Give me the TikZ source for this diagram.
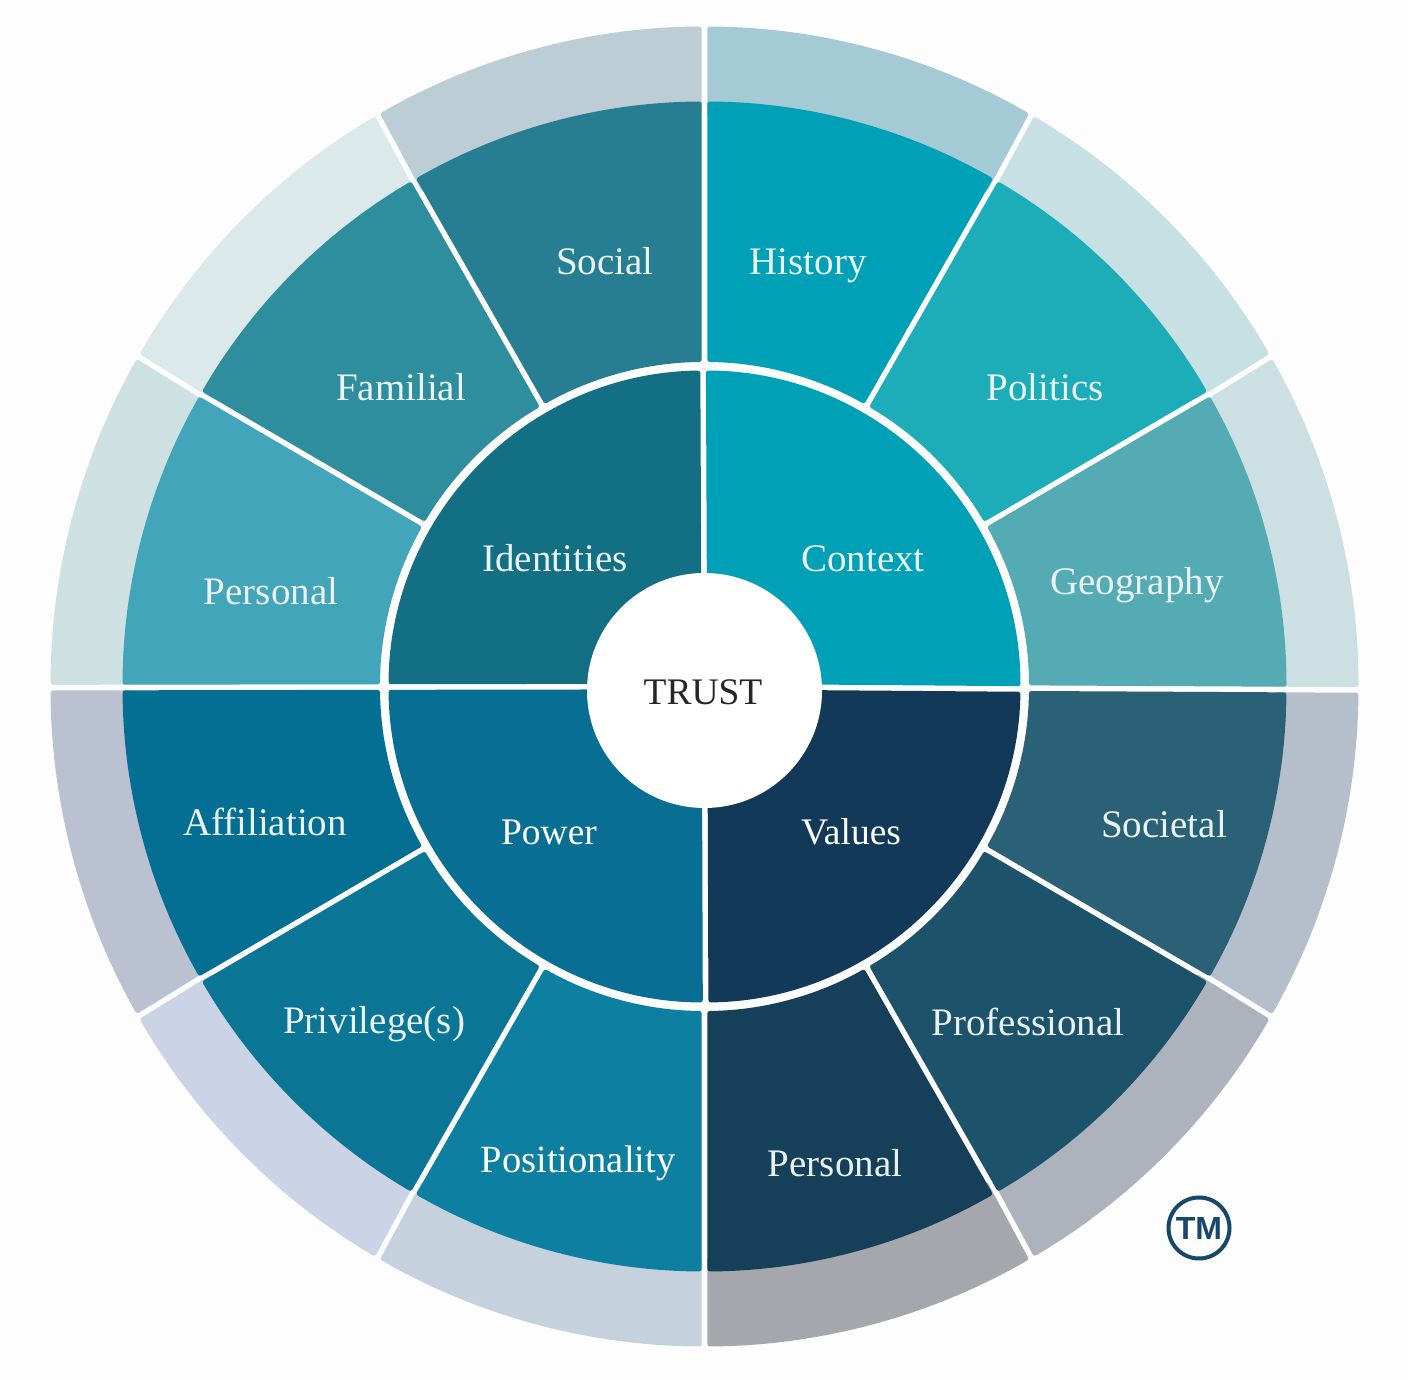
\documentclass[tikz,border=0pt]{standalone}
\usepackage{fontspec}
\setmainfont{Liberation Serif}
\newfontfamily\tmfont{Liberation Sans}
\newcommand{\sectgap}{2.8}
% colour, start angle, end angle, inner radius, outer x radius, outer y radius
\newcommand{\sect}[6]{%
  \pgfmathsetmacro{\dA}{asin(\sectgap/#4)}%
  \pgfmathsetmacro{\dB}{asin(\sectgap/#5)}%
  \pgfmathsetmacro{\aOs}{#2+\dB}%
  \pgfmathsetmacro{\aOe}{#3-\dB}%
  \pgfmathsetmacro{\aIs}{#2+\dA}%
  \pgfmathsetmacro{\aIe}{#3-\dA}%
  \fill[fill=#1,rounded corners=2.5pt]
    (\aOs:#5pt and #6pt)
    arc[start angle=\aOs,end angle=\aOe,x radius=#5pt,y radius=#6pt]
    -- (\aIe:#4pt)
    arc[start angle=\aIe,end angle=\aIs,radius=#4pt]
    -- cycle;}
\newcommand{\oring}[3]{\sect{#1}{#2}{#3}{570}{654}{660}}
\newcommand{\mring}[3]{\sect{#1}{#2}{#3}{324.5}{582}{585}}
\newcommand{\iring}[3]{\sect{#1}{#2}{#3}{90}{316}{316}}
\definecolor{labsoft}{HTML}{E9F3F5}
\definecolor{tmblue}{HTML}{17486A}
\definecolor{pagebg}{HTML}{FDFDFE}
\tikzset{
  lab/.style={font=\fontsize{39}{42}\selectfont,text=labsoft,inner sep=0pt,anchor=center,
    text height=25pt,text depth=0pt},
  labw/.style={lab,font=\fontsize{37.5}{40}\selectfont,text=#1},
  labw/.default={white},
  tmring/.style={circle,draw=tmblue,line width=4pt,minimum size=61pt,inner sep=0pt,
    font=\tmfont\bfseries\fontsize{32}{34}\selectfont,text=tmblue}
}
\begin{document}
\begin{tikzpicture}[x=1pt,y=1pt]
\useasboundingbox (0,0) rectangle (1408,1380);
\fill[fill=pagebg] (0,0) rectangle (1408,1380);
\begin{scope}[shift={(704.5pt,693.5pt)}]
  % outer ring
  \definecolor{o1}{HTML}{CCE0E3}\oring{o1}{-0.3}{30}
  \definecolor{o2}{HTML}{C7E0E4}\oring{o2}{30}{60}
  \definecolor{o3}{HTML}{A4CAD5}\oring{o3}{60}{90}
  \definecolor{o4}{HTML}{BCCDD5}\oring{o4}{90}{120}
  \definecolor{o5}{HTML}{DCE9EA}\oring{o5}{120}{150}
  \definecolor{o6}{HTML}{CDE1E3}\oring{o6}{150}{180.1}
  \definecolor{o7}{HTML}{BAC1D0}\oring{o7}{180.1}{210}
  \definecolor{o8}{HTML}{CBD3E7}\oring{o8}{210}{240}
  \definecolor{o9}{HTML}{C6D1DE}\oring{o9}{240}{270}
  \definecolor{o10}{HTML}{A5A7AC}\oring{o10}{270}{300}
  \definecolor{o11}{HTML}{ADB3BC}\oring{o11}{300}{330}
  \definecolor{o12}{HTML}{B5BFCC}\oring{o12}{330}{359.7}
  % middle ring
  \definecolor{m1}{HTML}{54ABB4}\mring{m1}{-0.3}{30}
  \definecolor{m2}{HTML}{1DADB9}\mring{m2}{30}{60}
  \definecolor{m3}{HTML}{00A0B7}\mring{m3}{60}{90}
  \definecolor{m4}{HTML}{277D91}\mring{m4}{90}{120}
  \definecolor{m5}{HTML}{2F8E9E}\mring{m5}{120}{150}
  \definecolor{m6}{HTML}{43A5B9}\mring{m6}{150}{180.1}
  \definecolor{m7}{HTML}{056E93}\mring{m7}{180.1}{210}
  \definecolor{m8}{HTML}{0B7595}\mring{m8}{210}{240}
  \definecolor{m9}{HTML}{0D80A1}\mring{m9}{240}{270}
  \definecolor{m10}{HTML}{164059}\mring{m10}{270}{300}
  \definecolor{m11}{HTML}{1C536B}\mring{m11}{300}{330}
  \definecolor{m12}{HTML}{2A6176}\mring{m12}{330}{359.7}
  % inner ring
  \definecolor{i1}{HTML}{00A0B6}\iring{i1}{-0.45}{90.25}
  \definecolor{i2}{HTML}{136F84}\iring{i2}{90.25}{180.1}
  \definecolor{i3}{HTML}{086E94}\iring{i3}{180.1}{270.2}
  \definecolor{i4}{HTML}{123A58}\iring{i4}{270.2}{359.55}
\end{scope}
\begin{scope}[yshift=1380pt,y=-1pt]
  \node[circle,fill=white,minimum size=235pt,inner sep=0pt] (hub) at (704.5,690.5) {};
  \node[labw=black!85] (trust) at (703,692) {TRUST};
  \node[lab] (history) at (808,262) {History};
  \node[lab] (politics) at (1045,388) {Politics};
  \node[lab] (geography) at (1137,582) {Geography};
  \node[lab] (social) at (605,262) {Social};
  \node[lab] (familial) at (401,388) {Familial};
  \node[lab] (personalA) at (271,592) {Personal};
  \node[lab] (identities) at (555,559) {Identities};
  \node[lab] (context) at (863,559) {Context};
  \node[labw] (power) at (549,832) {Power};
  \node[labw] (values) at (851,832) {Values};
  \node[lab] (affiliation) at (265,823) {Affiliation};
  \node[lab] (societal) at (1164,825) {Societal};
  \node[lab] (privilege) at (374,1021) {Privilege(s)};
  \node[lab] (professional) at (1028,1023) {Professional};
  \node[labw,font=\fontsize{38.5}{41}\selectfont] (positionality) at (578,1160) {Positionality};
  \node[lab] (personalB) at (835,1164) {Personal};
  \node[tmring] (tm) at (1199,1228) {TM};
\end{scope}
\end{tikzpicture}
\end{document}
